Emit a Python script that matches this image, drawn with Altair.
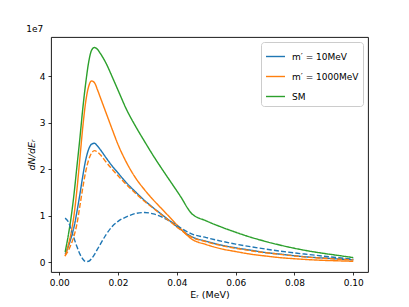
import altair as alt
import pandas as pd

# Recoil energy grid (MeV)
E_r = [0.002, 0.003, 0.004, 0.005, 0.006, 0.007, 0.008, 0.009, 0.010, 0.011,
       0.012, 0.013, 0.014, 0.016, 0.018, 0.020, 0.023, 0.026, 0.029, 0.032,
       0.035, 0.038, 0.041, 0.045, 0.050, 0.055, 0.060, 0.065, 0.070, 0.075,
       0.080, 0.085, 0.090, 0.095, 0.100]

# dN/dE_r in units of 1e7
m10_solid = [0.18, 0.32, 0.52, 0.75, 1.08, 1.45, 1.85, 2.20, 2.43, 2.54,
             2.56, 2.50, 2.42, 2.24, 2.07, 1.92, 1.70, 1.51, 1.33, 1.17,
             1.02, 0.87, 0.72, 0.55, 0.45, 0.37, 0.31, 0.26, 0.21, 0.175,
             0.14, 0.11, 0.09, 0.07, 0.05]
m1000_solid = [0.13, 0.35, 0.62, 1.00, 1.55, 2.22, 2.90, 3.45, 3.78, 3.90,
               3.86, 3.71, 3.54, 3.20, 2.86, 2.53, 2.13, 1.81, 1.56, 1.34,
               1.14, 0.94, 0.74, 0.50, 0.38, 0.29, 0.23, 0.175, 0.135, 0.10,
               0.075, 0.055, 0.04, 0.03, 0.02]
sm = [0.22, 0.55, 0.95, 1.45, 2.05, 2.65, 3.30, 3.85, 4.30, 4.56,
      4.62, 4.58, 4.49, 4.27, 3.99, 3.70, 3.27, 2.92, 2.60, 2.29,
      2.00, 1.72, 1.44, 1.05, 0.89, 0.76, 0.645, 0.54, 0.45, 0.37,
      0.30, 0.24, 0.19, 0.145, 0.10]
m10_dashed = [0.95, 0.88, 0.72, 0.52, 0.34, 0.18, 0.07, 0.015, 0.02, 0.08,
              0.17, 0.28, 0.39, 0.60, 0.77, 0.88, 0.98, 1.05, 1.07, 1.04,
              0.97, 0.87, 0.75, 0.61, 0.53, 0.455, 0.39, 0.335, 0.285, 0.24,
              0.20, 0.165, 0.13, 0.095, 0.065]
m1000_dashed = [0.14, 0.24, 0.38, 0.56, 0.82, 1.20, 1.60, 1.95, 2.20, 2.35,
                2.40, 2.37, 2.31, 2.15, 2.00, 1.86, 1.66, 1.48, 1.31, 1.16,
                1.01, 0.86, 0.71, 0.54, 0.44, 0.36, 0.30, 0.25, 0.205, 0.17,
                0.135, 0.105, 0.085, 0.065, 0.05]

labels = ["m′ = 10MeV", "m′ = 1000MeV", "SM"]
colors = ["#1f77b4", "#ff7f0e", "#2ca02c"]
x_ticks = [0.0, 0.02, 0.04, 0.06, 0.08, 0.10]
y_ticks = [0, 1, 2, 3, 4]

series = [
    ("a_m10_solid", labels[0], "solid", m10_solid),
    ("b_m1000_solid", labels[1], "solid", m1000_solid),
    ("c_sm", labels[2], "solid", sm),
    ("d_m10_dashed", labels[0], "dashed", m10_dashed),
    ("e_m1000_dashed", labels[1], "dashed", m1000_dashed),
]
rows = []
for sid, model, style, ys in series:
    for xv, yv in zip(E_r, ys):
        rows.append({"sid": sid, "model": model, "style": style, "E": xv, "N": yv})
df = pd.DataFrame(rows)

font = "DejaVu Sans"

chart = alt.Chart(df).mark_line(strokeWidth=1.4, interpolate="monotone").encode(
    x=alt.X("E:Q", scale=alt.Scale(domain=[-0.0028, 0.105], nice=False, zero=False),
            axis=alt.Axis(values=x_ticks, format=".2f", title="Eᵣ (MeV)")),
    y=alt.Y("N:Q", scale=alt.Scale(domain=[-0.21, 4.845], nice=False, zero=False),
            axis=alt.Axis(values=y_ticks, format="d", title="dN/dEᵣ",
                          titleFontStyle="italic")),
    color=alt.Color("model:N", scale=alt.Scale(domain=labels, range=colors),
                    legend=alt.Legend(title=None, orient="top-right")),
    strokeDash=alt.StrokeDash("style:N",
                              scale=alt.Scale(domain=["solid", "dashed"],
                                              range=[[1, 0], [5, 2.2]]),
                              legend=None),
    detail="sid:N",
    order="sid:N",
).properties(
    width=317, height=235,
    title=alt.TitleParams("1e7", anchor="start", fontSize=9, fontWeight="normal",
                          font=font, offset=3, color="black"),
    autosize=alt.AutoSizeParams(type="none"),
    padding={"left": 43, "top": 29, "right": 30, "bottom": 32},
).configure_view(
    stroke="black", strokeWidth=0.9
).configure_axis(
    domain=False, grid=False, ticks=True, tickColor="black", tickSize=3,
    tickWidth=0.8, labelFont=font, labelFontSize=9, labelColor="black",
    titleFont=font, titleFontSize=9.5, titleFontWeight="normal", titleColor="black",
    labelPadding=3,
).configure_axisX(
    titlePadding=2
).configure_axisY(
    titlePadding=3
).configure_legend(
    offset=5, strokeColor="#cccccc", fillColor="white", cornerRadius=3,
    padding=4, labelFont=font, labelFontSize=9, labelColor="black",
    symbolType="stroke", symbolSize=361, symbolStrokeWidth=1.4,
    rowPadding=4, labelOffset=6,
)

chart.save("out.html", embed_options={"renderer": "svg", "actions": False})
